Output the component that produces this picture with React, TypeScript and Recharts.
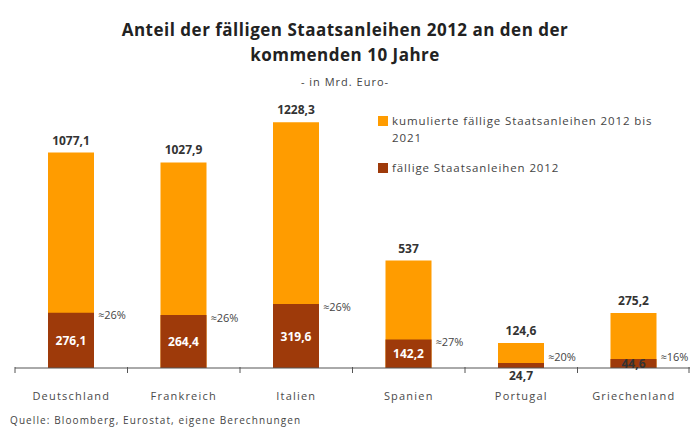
import { BarChart, Bar, XAxis, YAxis, LabelList } from "recharts";

const categories = ["Deutschland", "Frankreich", "Italien", "Spanien", "Portugal", "Griechenland"];
const cumulated = [1077.1, 1027.9, 1228.3, 537, 124.6, 275.2];
const due2012 = [276.1, 264.4, 319.6, 142.2, 24.7, 44.6];
const shares = [26, 26, 26, 27, 20, 16];

const ORANGE = "#FF9C00";
const DARK = "#9E3A0A";
const TEXT = "#333333";
const FONT = "'Open Sans', sans-serif";

const W = 690;
const H = 430;
// x axis takes 30px on top of the bottom margin
const MARGIN = { top: 118, right: 0, bottom: 32, left: 15 };
const HALF_BAND = (W - MARGIN.left - MARGIN.right) / categories.length / 2;

const data = categories.map((name, i) => ({
  name,
  cum: cumulated[i],
  due: due2012[i],
  share: shares[i],
}));

const fmt = (v: number) => String(v).replace(".", ",");

const AxisTick = (props: any) => {
  const { x, y, payload } = props;
  const last = payload.value === categories[categories.length - 1];
  return (
    <g>
      <line x1={x - HALF_BAND} x2={x - HALF_BAND} y1={y - 9} y2={y - 3} stroke="#555" />
      {last && <line x1={x + HALF_BAND - 1} x2={x + HALF_BAND - 1} y1={y - 9} y2={y - 3} stroke="#555" />}
      <text x={x} y={y + 19} textAnchor="middle" dominantBaseline="central" fontSize={11} fill="#4a4a4a" letterSpacing={1.2} fontFamily={FONT}>
        {payload.value}
      </text>
    </g>
  );
};

const TopLabel = (props: any) => {
  const { x, y, width, value } = props;
  return (
    <text x={x + width / 2} y={y - 8} textAnchor="middle" fontSize={12} fontWeight="bold" fill={TEXT} fontFamily={FONT}>
      {fmt(value)}
    </text>
  );
};

const DueLabel = (props: any) => {
  const { x, y, width, height, value } = props;
  let ty = y + height / 2;
  let color = "#fff";
  if (height < 16) color = TEXT;
  if (height < 7) ty = y + height + 7;
  return (
    <text x={x + width / 2} y={ty} textAnchor="middle" dominantBaseline="central" fontSize={12} fontWeight="bold" fill={color} fontFamily={FONT}>
      {fmt(value)}
    </text>
  );
};

const ShareLabel = (props: any) => {
  const { x, y, width, value } = props;
  return (
    <text x={x + width + 4} y={Math.min(y + 2, 356)} dominantBaseline="central" fontSize={11} fill="#444" fontFamily={FONT}>
      {"≈" + value + "%"}
    </text>
  );
};

export default function App() {
  return (
    <div style={{ position: "absolute", left: 0, top: 0, width: W, height: H, background: "#fff", fontFamily: FONT, color: TEXT }}>
      <div style={{ position: "absolute", left: 0, top: 17, width: W, textAlign: "center", fontSize: 17, fontWeight: 700, lineHeight: "25px", letterSpacing: 0.5, color: "#222" }}>
        Anteil der fälligen Staatsanleihen 2012 an den der
        <br />
        kommenden 10 Jahre
      </div>
      <div style={{ position: "absolute", left: 0, top: 74, width: W, textAlign: "center", fontSize: 11, letterSpacing: 1, color: "#444" }}>
        - in Mrd. Euro-
      </div>

      <div style={{ position: "absolute", left: 378, top: 112, fontSize: 11.5, lineHeight: "17px", color: "#444", letterSpacing: 0.9 }}>
        <div style={{ display: "flex" }}>
          <span style={{ width: 10, height: 10, background: ORANGE, marginTop: 4, marginRight: 4, flexShrink: 0 }} />
          <span>
            kumulierte fällige Staatsanleihen 2012 bis
            <br />
            2021
          </span>
        </div>
        <div style={{ display: "flex", marginTop: 13 }}>
          <span style={{ width: 10, height: 10, background: DARK, marginTop: 4, marginRight: 4, flexShrink: 0 }} />
          <span>fällige Staatsanleihen 2012</span>
        </div>
      </div>

      <BarChart width={W} height={H} data={data} margin={MARGIN} barSize={46} barGap={-46} style={{ position: "absolute", left: 0, top: 0 }}>
        <YAxis hide domain={[0, 1250]} />
        <XAxis
          dataKey="name"
          interval={0}
          axisLine={{ stroke: "#555" }}
          tickLine={false}
          tick={<AxisTick />}
        />
        <Bar dataKey="cum" fill={ORANGE} isAnimationActive={false}>
          <LabelList dataKey="cum" content={<TopLabel />} />
        </Bar>
        <Bar dataKey="due" fill={DARK} isAnimationActive={false}>
          <LabelList dataKey="due" content={<DueLabel />} />
          <LabelList dataKey="share" content={<ShareLabel />} />
        </Bar>
      </BarChart>

      <div style={{ position: "absolute", left: 10, top: 413, fontSize: 10, letterSpacing: 1.1, color: "#444" }}>
        Quelle: Bloomberg, Eurostat, eigene Berechnungen
      </div>
    </div>
  );
}
